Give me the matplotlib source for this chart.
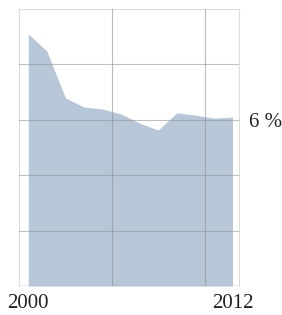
import numpy as np
import matplotlib.pyplot as plt

# valores (%), 12 puntos
valores = [9.10, 8.48, 6.79, 6.46, 6.39, 6.21, 5.88, 5.63, 6.25, 6.17, 6.06, 6.10]
etiquetasX = ["2000", "2012"]
lineasY = [2, 4, 6, 8]
etiquetaY = "6 %"

x = np.arange(len(valores))

plt.rcParams['font.family'] = ['Liberation Serif', 'DejaVu Serif']
fig = plt.figure(figsize=(2.82, 3.15), dpi=100)
ax = fig.add_axes([19/282, 29/315, 220/282, 277/315])

ax.fill_between(x, valores, 0, color='#b7c7d7', lw=0, zorder=1)

for v in lineasY:
    ax.axhline(v, color='#8f8f8f', lw=0.8, alpha=0.55, zorder=3)
for v in [4.5, 9.5]:
    ax.axvline(v, color='#8f8f8f', lw=0.8, alpha=0.6, zorder=3)
ax.axhline(0, color='#9a9a9a', lw=1.0, zorder=3)

ax.set_xlim(-0.5, 11.35)
ax.set_ylim(0, 10)

for s in ['left', 'right', 'top']:
    ax.spines[s].set_color('#dddddd')
    ax.spines[s].set_linewidth(0.8)
ax.spines['bottom'].set_visible(False)

ax.set_xticks([x[0], x[-1]], etiquetasX)
ax.yaxis.tick_right()
ax.set_yticks([6], [etiquetaY])
ax.tick_params(axis='x', length=0, pad=6, labelsize=15, colors='#222222')
ax.tick_params(axis='y', length=0, pad=7, labelsize=15, colors='#222222')

fig.savefig('out.png', dpi=100)
